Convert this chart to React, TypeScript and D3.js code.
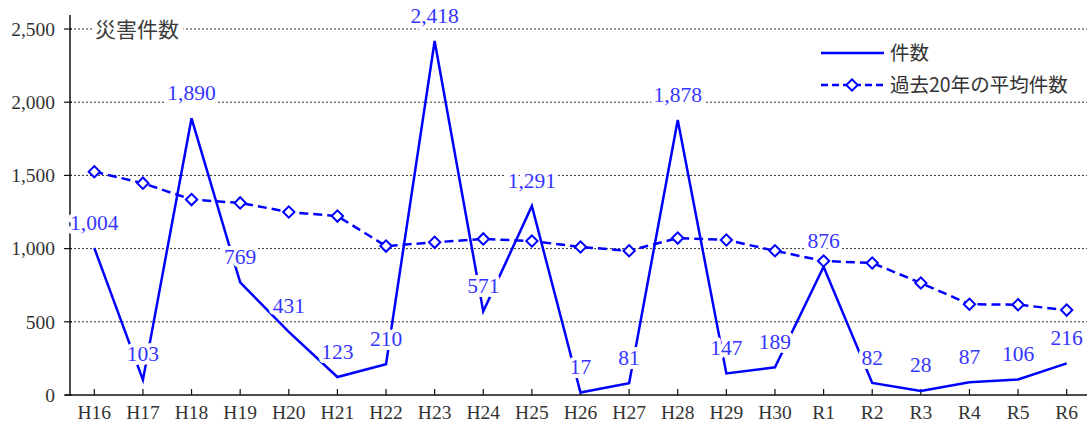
import React from "react";
import * as d3 from "d3";

const years = [
  "H16", "H17", "H18", "H19", "H20", "H21", "H22", "H23", "H24", "H25", "H26",
  "H27", "H28", "H29", "H30", "R1", "R2", "R3", "R4", "R5", "R6",
];
const counts = [
  1004, 103, 1890, 769, 431, 123, 210, 2418, 571, 1291, 17, 81, 1878, 147, 189,
  876, 82, 28, 87, 106, 216,
];
const averages = [
  1525, 1447, 1335, 1312, 1250, 1222, 1017, 1043, 1066, 1052, 1011, 985, 1072,
  1059, 985, 915, 902, 765, 620, 617, 580,
];
const yTicks = [0, 500, 1000, 1500, 2000, 2500];

const BLUE = "#0000ff";
const LABEL_BLUE = "#3535ff";
const TEXT = "#333";
const SERIF = "'Liberation Serif', 'Times New Roman', serif";
const JP = "'Noto Sans CJK JP', 'Noto Sans', sans-serif";

const width = 1087;
const height = 423;
const left = 70;
const bottom = 395;

const x = d3.scalePoint().domain(years).range([left, 1091]).padding(0.5);
const y = d3.scaleLinear().domain([0, 2500]).range([bottom, 29]);
const fmt = d3.format(",");

const line = d3
  .line<number>()
  .x((d, i) => x(years[i])!)
  .y((d) => y(d));

const diamond = d3.symbol().type(d3.symbolSquare).size(64)()!;

const App = () => (
  <svg
    width={width}
    height={height}
    style={{ position: "absolute", left: 0, top: 0, background: "white" }}
  >
    {/* grid */}
    {yTicks
      .filter((t) => t > 0)
      .map((t) => (
        <line
          key={"g" + t}
          x1={left}
          x2={width}
          y1={y(t)}
          y2={y(t)}
          stroke="#333"
          strokeWidth={1}
          strokeDasharray="2,2"
        />
      ))}

    {/* title */}
    <text
      x={95}
      y={y(2500) + 8}
      style={{ fontFamily: JP, fontSize: 21, paintOrder: "stroke" }}
      fill="#3a3a3a"
      stroke="white"
      strokeWidth={10}
    >
      災害件数
    </text>

    {/* y axis */}
    <line x1={left} x2={left} y1={15} y2={bottom} stroke="#111" strokeWidth={1.5} />
    {yTicks.map((t) => (
      <g key={"y" + t}>
        <line x1={left - 6} x2={left + 2} y1={y(t)} y2={y(t)} stroke="#111" strokeWidth={1.2} />
        <text
          x={left - 15}
          y={y(t)}
          dy="0.35em"
          textAnchor="end"
          fill={TEXT}
          style={{ fontFamily: SERIF, fontSize: 19.5 }}
        >
          {fmt(t)}
        </text>
      </g>
    ))}

    {/* x axis */}
    <line x1={left - 5} x2={width} y1={bottom} y2={bottom} stroke="#111" strokeWidth={1.5} />
    {years.map((yr) => (
      <g key={"x" + yr}>
        <line x1={x(yr)} x2={x(yr)} y1={bottom - 6} y2={bottom} stroke="#111" strokeWidth={1.2} />
        <text
          x={x(yr)}
          y={bottom + 17}
          dy="0.35em"
          textAnchor="middle"
          fill={TEXT}
          style={{ fontFamily: SERIF, fontSize: 19.5 }}
        >
          {yr}
        </text>
      </g>
    ))}

    {/* counts */}
    <path d={line(counts)!} fill="none" stroke={BLUE} strokeWidth={2.5} />

    {/* 20-year average */}
    <path
      d={line(averages)!}
      fill="none"
      stroke={BLUE}
      strokeWidth={2.5}
      strokeDasharray="9,5"
    />
    {averages.map((d, i) => (
      <path
        key={"d" + i}
        d={diamond}
        transform={`translate(${x(years[i])},${y(d)}) rotate(45)`}
        fill="white"
        stroke={BLUE}
        strokeWidth={2}
      />
    ))}

    {/* value labels */}
    {counts.map((d, i) => (
      <text
        key={"l" + i}
        x={x(years[i])}
        y={y(d) - 26}
        dy="0.35em"
        textAnchor="middle"
        fill={LABEL_BLUE}
        stroke="white"
        strokeWidth={8}
        strokeLinejoin="round"
        style={{ fontFamily: SERIF, fontSize: 21.5, paintOrder: "stroke" }}
      >
        {fmt(d)}
      </text>
    ))}

    {/* legend */}
    <line x1={821} x2={884} y1={53} y2={53} stroke={BLUE} strokeWidth={2.5} />
    <text x={890} y={53} dy="0.35em" fill={TEXT} style={{ fontFamily: JP, fontSize: 19.5 }}>
      件数
    </text>
    <line
      x1={821}
      x2={884}
      y1={85}
      y2={85}
      stroke={BLUE}
      strokeWidth={2.5}
      strokeDasharray="7,4"
    />
    <path
      d={diamond}
      transform="translate(852,85) rotate(45)"
      fill="white"
      stroke={BLUE}
      strokeWidth={2}
    />
    <text x={890} y={85} dy="0.35em" fill={TEXT} style={{ fontFamily: JP, fontSize: 19.5 }}>
      過去20年の平均件数
    </text>
  </svg>
);

export default App;
